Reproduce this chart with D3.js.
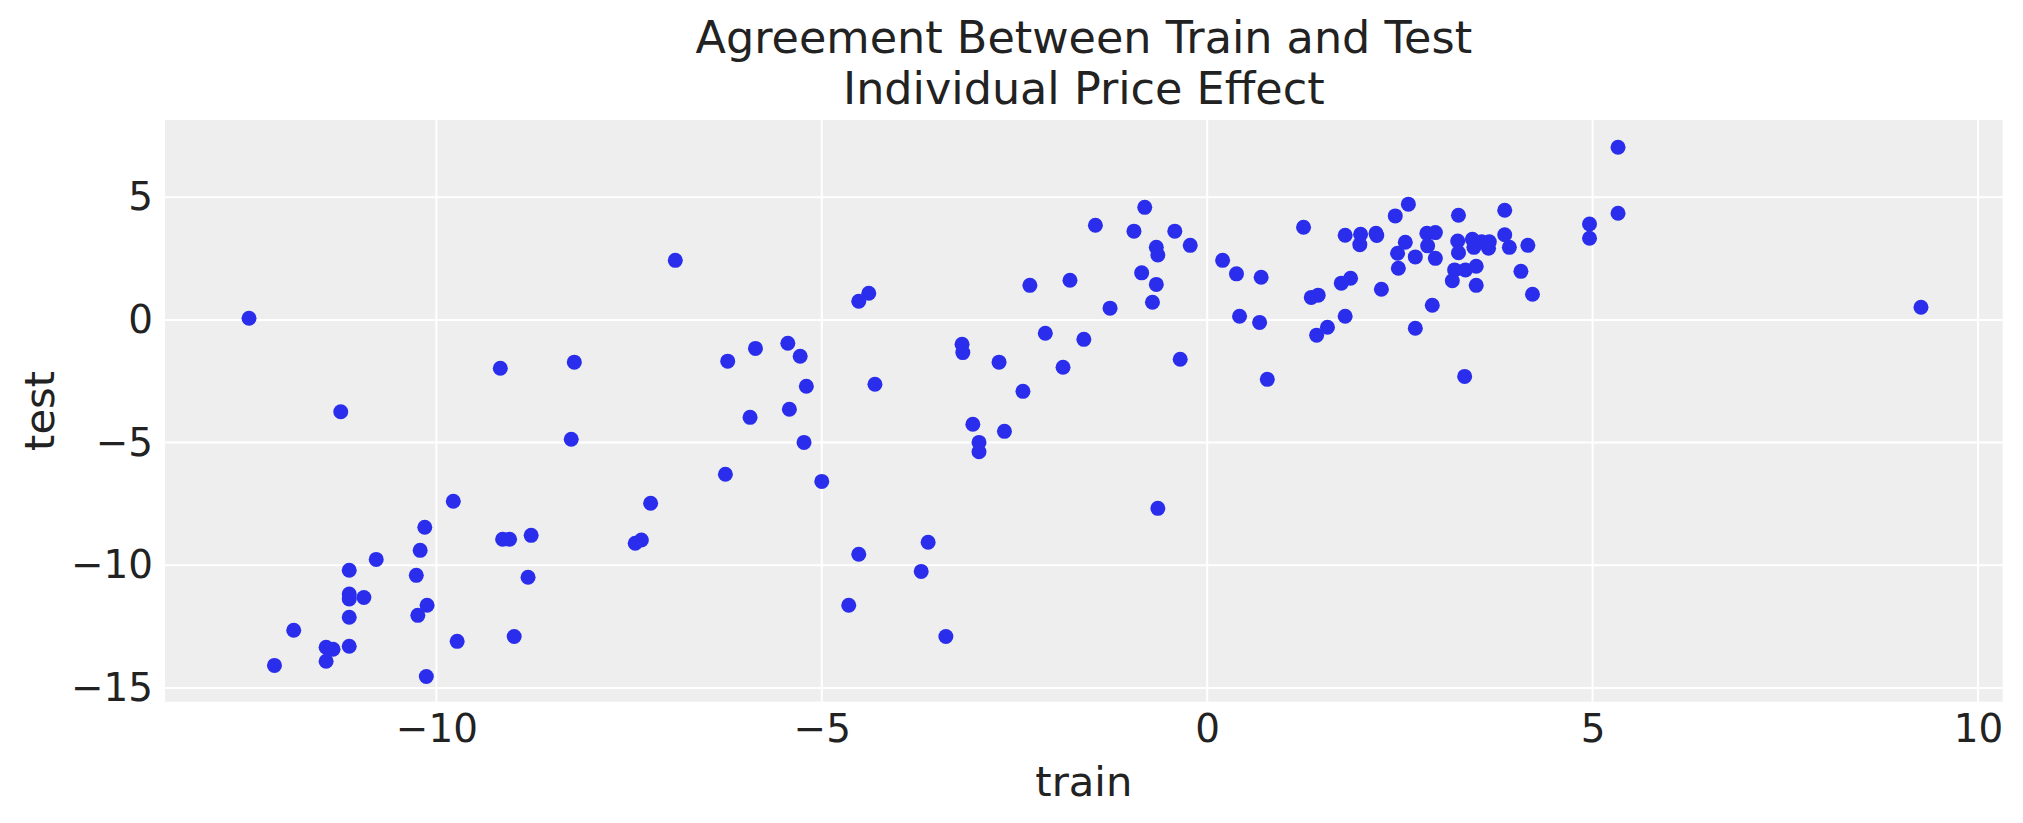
<!DOCTYPE html>
<html>
<head>
<meta charset="utf-8">
<script src="https://cdn.jsdelivr.net/npm/d3@7"></script>
<style>
  body { margin: 0; background: #fff; }
  text { font-family: "DejaVu Sans", sans-serif; fill: #222222; }
</style>
</head>
<body>
<script>
var w = 2023,
    h = 823;

// values
var train = [
  -12.43, -11.24, -9.17, -8.21, -8.25, -9.78, -7.22, -10.15, -9.14, -9.05,
  -8.77, -7.42, -7.34, -10.21, -10.78, -11.13, -10.26, -8.81, -11.13, -11.13,
  -10.94, -10.12, -10.24, -11.13, -11.85, -9.73, -8.99, -11.43, -11.34, -11.13,
  -11.43, -12.10, -10.13,
  -6.90, -4.52, -4.39, -2.30, -1.78, -1.45, -1.26, -0.95, -6.22, -5.86,
  -5.44, -5.28, -5.20, -5.42, -5.93, -4.31, -3.18, -3.17, -2.70, -2.39,
  -2.10, -1.87, -1.60, -5.23, -6.25, -5.00, -3.04, -2.63, -2.96, -2.96,
  -4.52, -3.62, -3.71, -4.65, -3.39,
  -0.81, -0.42, -0.66, -0.64, -0.22, -0.85, -0.66, -0.71, -0.35, 0.20,
  0.38, 0.70, 0.42, 0.68, 0.78, 1.25, 1.35, 1.44, 1.42, 1.56,
  1.79, 1.99, 1.98, 2.19, 2.20, 1.74, 1.86, 1.79, 2.26, 2.44,
  2.61, 2.57, 2.47, 2.48, 2.70, 2.70, 2.85, 2.96, 2.86, 2.96,
  2.92, 3.26, 3.25, 3.26, 3.21, 3.18, 3.35, 3.49, 3.49, 3.44,
  3.46, 3.56, 3.66, 3.65, 3.86, 3.86, 3.92, 4.16, 4.07, 4.22,
  3.34, 4.96, 4.96, 5.33, 5.33, -0.64, 9.26
];
var test = [
  0.07, -3.74, -1.97, -1.72, -4.86, -7.39, -7.47, -8.45, -8.94, -8.94,
  -8.78, -9.10, -8.97, -9.39, -9.76, -10.20, -10.41, -10.49, -11.17, -11.37,
  -11.31, -11.63, -12.04, -12.12, -12.65, -13.10, -12.90, -13.34, -13.42, -13.30,
  -13.91, -14.08, -14.53,
  2.43, 0.76, 1.09, 1.41, 1.62, 3.86, 0.48, 3.62, -1.68, -1.16,
  -0.95, -1.48, -2.70, -3.64, -3.97, -2.62, -0.99, -1.33, -1.72, -2.91,
  -0.54, -1.93, -0.79, -4.99, -6.29, -6.58, -4.25, -4.54, -4.99, -5.37,
  -9.55, -9.06, -10.25, -11.63, -12.90,
  4.59, 3.62, 2.96, 2.65, 3.04, 1.92, 1.45, 0.72, -1.60, 2.43,
  1.88, 1.74, 0.15, -0.10, -2.42, 3.78, 0.92, 1.01, -0.62, -0.30,
  3.45, 3.49, 3.07, 3.53, 3.44, 1.50, 1.70, 0.15, 1.25, 4.24,
  4.72, 3.17, 2.72, 2.11, 2.57, -0.34, 3.53, 3.56, 3.02, 2.51,
  0.60, 4.27, 3.22, 2.74, 2.04, 1.60, 2.04, 2.19, 1.41, 3.29,
  2.96, 3.19, 3.19, 2.92, 4.47, 3.47, 2.96, 3.04, 1.98, 1.05,
  -2.30, 3.91, 3.33, 7.04, 4.35, -7.68, 0.52
];
var xTicks = [-10, -5, 0, 5, 10],
    yTicks = [-15, -10, -5, 0, 5];
var titleLines = ["Agreement Between Train and Test", "Individual Price Effect"];

// plot box (window.top is taken, so no "top" here)
var pLeft = 165, pRight = 2002.7, pTop = 120, pBottom = 701.7;

var x = d3.scaleLinear().domain([-13.52, 10.32]).range([pLeft, pRight]);
var y = d3.scaleLinear().domain([-15.56, 8.15]).range([pBottom, pTop]);

var svg = d3.select("body").append("svg")
    .attr("width", w)
    .attr("height", h);

svg.append("rect")
    .attr("x", pLeft)
    .attr("y", pTop)
    .attr("width", pRight - pLeft)
    .attr("height", pBottom - pTop)
    .attr("fill", "#eeeeee");

// grid
svg.append("g").selectAll("line")
    .data(xTicks)
    .enter().append("line")
    .attr("x1", function(d) { return x(d); })
    .attr("x2", function(d) { return x(d); })
    .attr("y1", pTop)
    .attr("y2", pBottom)
    .attr("stroke", "#ffffff")
    .attr("stroke-width", 2);

svg.append("g").selectAll("line")
    .data(yTicks)
    .enter().append("line")
    .attr("y1", function(d) { return y(d); })
    .attr("y2", function(d) { return y(d); })
    .attr("x1", pLeft)
    .attr("x2", pRight)
    .attr("stroke", "#ffffff")
    .attr("stroke-width", 2);

// axes, no tick marks, no spines
var xAxis = svg.append("g")
    .attr("transform", "translate(0," + pBottom + ")")
    .call(d3.axisBottom(x).tickValues(xTicks).tickSize(0).tickPadding(12.7));
var yAxis = svg.append("g")
    .attr("transform", "translate(" + pLeft + ",0)")
    .call(d3.axisLeft(y).tickValues(yTicks).tickSize(0).tickPadding(12));

[xAxis, yAxis].forEach(function(a) {
  a.select(".domain").remove();
  a.selectAll("text")
      .attr("font-family", "DejaVu Sans")
      .attr("font-size", 38.9)
      .attr("fill", "#222222");
});

// points
svg.append("g").selectAll("circle")
    .data(train)
    .enter().append("circle")
    .attr("cx", function(d) { return x(d); })
    .attr("cy", function(d, i) { return y(test[i]); })
    .attr("r", 7.5)
    .attr("fill", "#2a2eec");

// title
var cx = (pLeft + pRight) / 2;
svg.selectAll("text.title")
    .data(titleLines)
    .enter().append("text")
    .attr("class", "title")
    .attr("x", cx)
    .attr("y", function(d, i) { return 53 + i * 51; })
    .attr("text-anchor", "middle")
    .attr("font-size", 44.5)
    .text(function(d) { return d; });

svg.append("text")
    .attr("x", cx)
    .attr("y", 796)
    .attr("text-anchor", "middle")
    .attr("font-size", 41.7)
    .text("train");

svg.append("text")
    .attr("transform", "translate(54," + ((pTop + pBottom) / 2) + ") rotate(-90)")
    .attr("text-anchor", "middle")
    .attr("font-size", 41.7)
    .text("test");
</script>
</body>
</html>
